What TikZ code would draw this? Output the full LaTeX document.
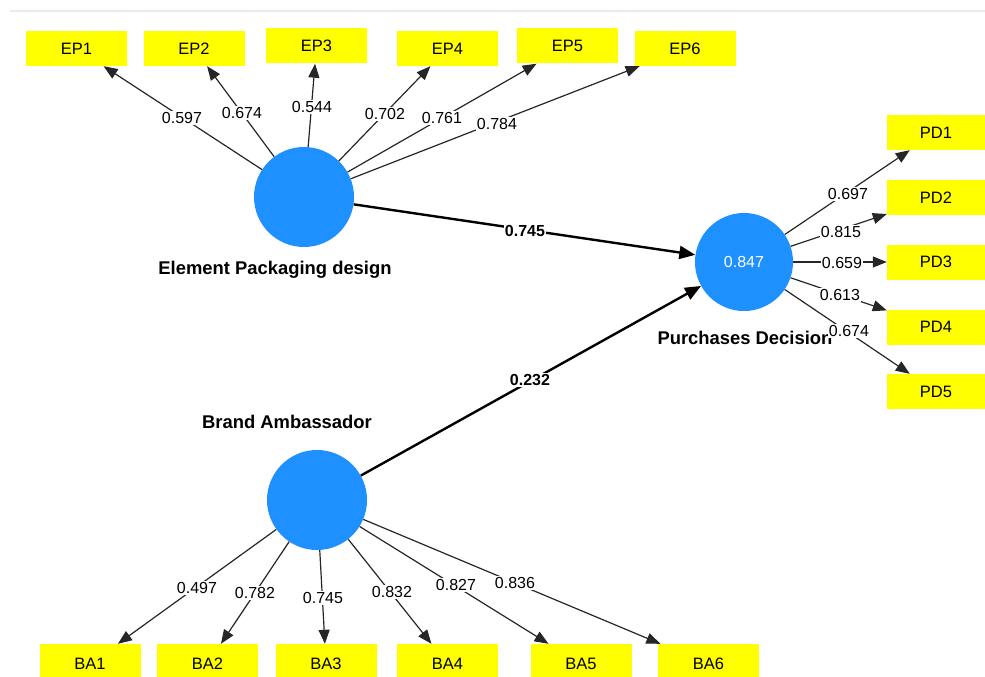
\documentclass[tikz,border=0pt]{standalone}
\usepackage{fontspec}
\setmainfont{Liberation Sans}
\usetikzlibrary{arrows.meta}
\definecolor{lvblue}{RGB}{30,144,255}
\definecolor{indyellow}{RGB}{255,255,0}
\begin{document}
\begin{tikzpicture}[x=1pt,y=-1pt,
 ind/.style={rectangle, fill=indyellow, minimum width=101pt, minimum height=35pt, inner sep=0pt, font=\fontsize{16.5}{18}\selectfont},
 lv/.style={circle, fill=lvblue, minimum size=100pt, inner sep=0pt},
 lvname/.style={font=\bfseries\fontsize{18.4}{20}\selectfont},
 ld/.style={draw=black!85, line width=1.2pt, -{Triangle[length=14pt,width=11pt]}},
 sp/.style={draw=black, line width=2.4pt, -{Triangle[length=16pt,width=13pt]}},
 lbl/.style={fill=white, inner sep=1.2pt, font=\fontsize{16}{18}\selectfont},
 slbl/.style={fill=white, inner sep=1.2pt, font=\bfseries\fontsize{16}{18}\selectfont}]
\useasboundingbox (0,0) rectangle (985,677);
\draw[black!8, line width=1.2pt] (10,11) -- (985,11);

% latent variables
\node[lv] (EP) at (304,197) {};
\node[lv, minimum size=98pt, text=white, font=\fontsize{16}{18}\selectfont] (PD) at (744,262) {0.847};
\node[lv] (BA) at (317,500) {};

% indicators
\node[ind] (EP1) at (76.5,48.5) {EP1};
\node[ind] (EP2) at (194,48.5) {EP2};
\node[ind] (EP3) at (316.5,46) {EP3};
\node[ind] (EP4) at (447.5,48.5) {EP4};
\node[ind] (EP5) at (567.5,46) {EP5};
\node[ind] (EP6) at (685,48.5) {EP6};

\node[ind, minimum width=98pt] (PD1) at (936,132.5) {PD1};
\node[ind, minimum width=98pt] (PD2) at (936,197.5) {PD2};
\node[ind, minimum width=98pt] (PD3) at (936,262) {PD3};
\node[ind, minimum width=98pt] (PD4) at (936,327) {PD4};
\node[ind, minimum width=98pt] (PD5) at (936,391.5) {PD5};

\node[ind, minimum height=40pt] (BA1) at (90,664) {BA1};
\node[ind, minimum height=40pt] (BA2) at (207.5,664) {BA2};
\node[ind, minimum height=40pt] (BA3) at (326,664) {BA3};
\node[ind, minimum height=40pt] (BA4) at (447.5,664) {BA4};
\node[ind, minimum height=40pt] (BA5) at (581,664) {BA5};
\node[ind, minimum height=40pt] (BA6) at (708.5,664) {BA6};

% loadings
\foreach \i in {1,...,6} \draw[ld] (EP) -- (EP\i);
\foreach \i in {1,...,5} \draw[ld] (PD) -- (PD\i);
\foreach \i in {1,...,6} \draw[ld] (BA) -- (BA\i);

% structural paths
\draw[sp] (EP) -- (PD);
\draw[sp] (BA) -- (PD);

% names
\node[lvname] (EPn) at (275,270) {Element Packaging design};
\node[lvname] (BAn) at (287,422) {Brand Ambassador};
\node[lvname, anchor=west] (PDn) at (654,338) {Purchases Decision};

% loading labels
\node[lbl] (l1) at (182,118) {0.597};
\node[lbl] (l2) at (242,113) {0.674};
\node[lbl] (l3) at (312,107) {0.544};
\node[lbl] (l4) at (385,114) {0.702};
\node[lbl] (l5) at (442,118) {0.761};
\node[lbl] (l6) at (497,124) {0.784};

\node[lbl] (p1) at (848,194) {0.697};
\node[lbl] (p2) at (841,232) {0.815};
\node[lbl] (p3) at (842,263) {0.659};
\node[lbl] (p4) at (840,295) {0.613};
\node[lbl] (p5) at (849,331) {0.674};

\node[lbl] (b1) at (197,588) {0.497};
\node[lbl] (b2) at (255,593) {0.782};
\node[lbl] (b3) at (323,598) {0.745};
\node[lbl] (b4) at (392,592) {0.832};
\node[lbl] (b5) at (456,585) {0.827};
\node[lbl] (b6) at (515,583) {0.836};

\node[slbl] (s1) at (525,231) {0.745};
\node[slbl] (s2) at (530,380) {0.232};
\end{tikzpicture}
\end{document}
